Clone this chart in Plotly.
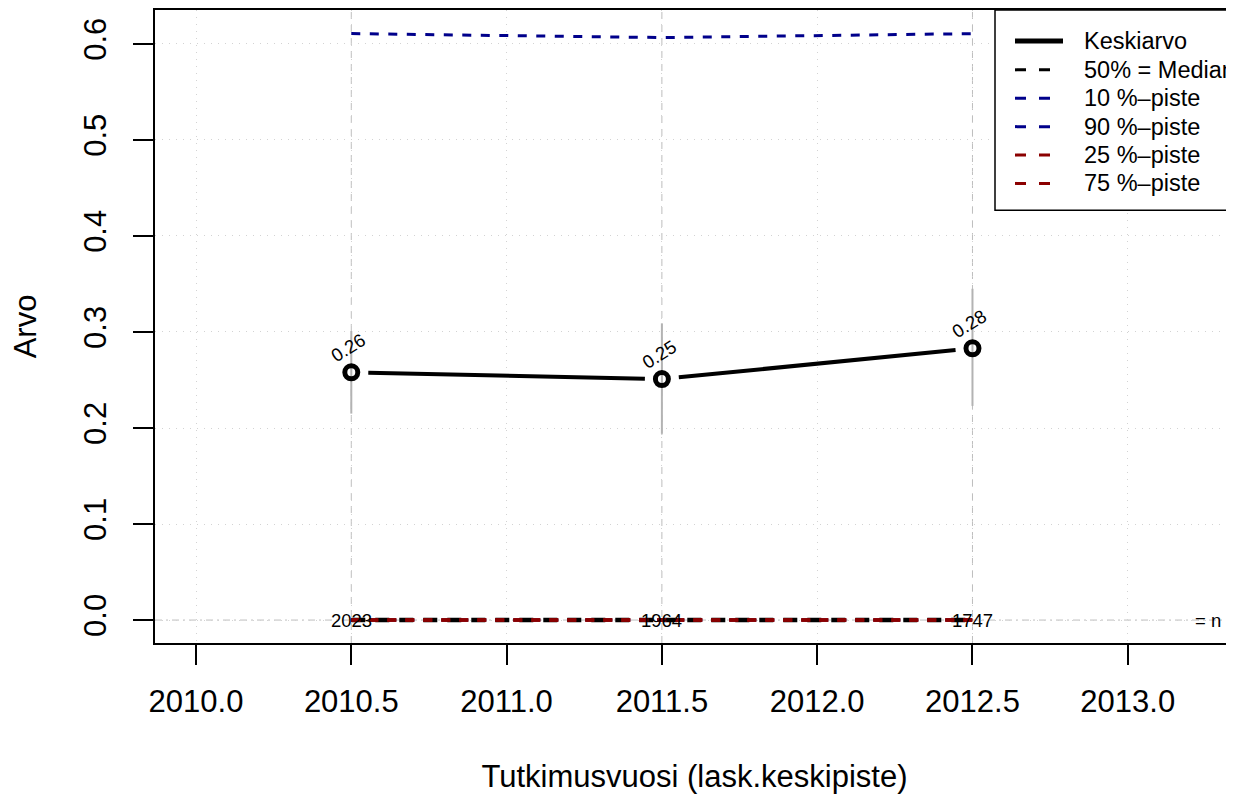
import plotly.graph_objects as go

# ---------------- data ----------------
years = [2010.5, 2011.5, 2012.5]
mean_vals = [0.258, 0.251, 0.283]
mean_labels = ["0.26", "0.25", "0.28"]
err_low = [0.215, 0.194, 0.223]
err_high = [0.301, 0.309, 0.345]
p10 = [0.0, 0.0, 0.0]
p25 = [0.0, 0.0, 0.0]
p50 = [0.0, 0.0, 0.0]
p75 = [0.0, 0.0, 0.0]
p90 = [0.6107, 0.6066, 0.6107]
n_vals = ["2023", "1964", "1747"]
x_ticks = [2010.0, 2010.5, 2011.0, 2011.5, 2012.0, 2012.5, 2013.0]
y_ticks = [0.0, 0.1, 0.2, 0.3, 0.4, 0.5, 0.6]
legend_labels = ["Keskiarvo", "50% = Median", "10 %\u2013piste", "90 %\u2013piste",
                 "25 %\u2013piste", "75 %\u2013piste"]

# ---------------- layout geometry ----------------
OFF = 8                      # page body margin
FW, FH = 1234 - OFF, 797 - OFF
L, T = 155 - OFF, 8 - OFF    # plot area left / top in figure pixels
W, H = FW - L, (643 - OFF) - T
XR = [2009.868, 2013.342]
YR = [-0.0239, 0.6353]
FONT = "Liberation Sans, Arial, Helvetica, sans-serif"

BLACK = "#000000"
NAVY = "#00008B"
DRED = "#8B0000"
GRID = "#D3D3D3"
GRAY = "#BEBEBE"


def to_px(x, y):
    return (L + (x - XR[0]) / (XR[1] - XR[0]) * W,
            T + H - (y - YR[0]) / (YR[1] - YR[0]) * H)


def to_data(px, py):
    return (XR[0] + (px - L) / W * (XR[1] - XR[0]),
            YR[0] + (T + H - py) / H * (YR[1] - YR[0]))


def pxx(p):  # page pixel -> paper x
    return (p - OFF - L) / W


def pyy(p):  # page pixel -> paper y
    return (T + H - (p - OFF)) / H


fig = go.Figure()

# percentile lines
fig.add_trace(go.Scatter(x=years, y=p10, mode="lines", showlegend=False,
                         line=dict(color=NAVY, width=3, dash="9px,9px")))
fig.add_trace(go.Scatter(x=years, y=p90, mode="lines", showlegend=False,
                         line=dict(color=NAVY, width=3, dash="9px,9.5px")))
fig.add_trace(go.Scatter(x=years, y=p50, mode="lines", showlegend=False,
                         line=dict(color=BLACK, width=4.5, dash="14px,10px")))
fig.add_trace(go.Scatter(x=years, y=p25, mode="lines", showlegend=False,
                         line=dict(color=DRED, width=3.5, dash="9px,9px")))
fig.add_trace(go.Scatter(x=years, y=p75, mode="lines", showlegend=False,
                         line=dict(color=DRED, width=3.5, dash="9px,9px")))

# error bars (vertical gray)
for x, lo, hi in zip(years, err_low, err_high):
    fig.add_trace(go.Scatter(x=[x, x], y=[lo, hi], mode="lines", showlegend=False,
                             line=dict(color="#B3B3B3", width=2)))

# mean line with gaps around points (R type="b")
GAP = 17
for i in range(len(years) - 1):
    x0, y0 = to_px(years[i], mean_vals[i])
    x1, y1 = to_px(years[i + 1], mean_vals[i + 1])
    d = ((x1 - x0) ** 2 + (y1 - y0) ** 2) ** 0.5
    ux, uy = (x1 - x0) / d, (y1 - y0) / d
    a = to_data(x0 + ux * GAP, y0 + uy * GAP)
    b = to_data(x1 - ux * GAP, y1 - uy * GAP)
    fig.add_trace(go.Scatter(x=[a[0], b[0]], y=[a[1], b[1]], mode="lines",
                             showlegend=False, line=dict(color=BLACK, width=4)))

fig.add_trace(go.Scatter(x=years, y=mean_vals, mode="markers", showlegend=False,
                         marker=dict(symbol="circle-open", size=13, color=BLACK,
                                     line=dict(width=5, color=BLACK))))

# reference lines
for x in years:
    fig.add_shape(type="line", xref="x", yref="paper", x0=x, x1=x, y0=0, y1=1,
                  line=dict(color=GRAY, width=1, dash="7px,6px"), layer="below")
fig.add_shape(type="line", xref="paper", yref="y", x0=0, x1=1, y0=0, y1=0,
              line=dict(color=GRAY, width=1, dash="7px,4px,2px,4px"), layer="below")

SMALL = 18.5
annotations = []
# mean labels
for x, y, t in zip(years, mean_vals, mean_labels):
    annotations.append(dict(x=x, y=y, text=t, showarrow=False, xshift=-3, yshift=25,
                            textangle=-32, font=dict(size=SMALL, color=BLACK, family=FONT)))
# n labels
for x, t in zip(years, n_vals):
    annotations.append(dict(x=x, y=0, text=t, showarrow=False,
                            font=dict(size=SMALL, color=BLACK, family=FONT)))
annotations.append(dict(x=2013.258, y=0, text="= n", showarrow=False,
                        font=dict(size=SMALL, color=BLACK, family=FONT)))

# manual legend (R style)
fig.add_shape(type="rect", xref="paper", yref="paper", x0=pxx(995), x1=pxx(1320),
              y0=pyy(209), y1=pyy(8), fillcolor="white",
              line=dict(color=BLACK, width=1.5), layer="above")
leg_styles = [(BLACK, 5, "solid"), (BLACK, 3, "11px,13px"), (NAVY, 3, "11px,13px"),
              (NAVY, 3, "11px,13px"), (DRED, 3, "11px,13px"), (DRED, 3, "11px,13px")]
row_y = [39, 68, 96.5, 125, 153.5, 182]
for (col, wd, ds), ry, lab in zip(leg_styles, row_y, legend_labels):
    fig.add_shape(type="line", xref="paper", yref="paper", x0=pxx(1015), x1=pxx(1063),
                  y0=pyy(ry), y1=pyy(ry), line=dict(color=col, width=wd, dash=ds),
                  layer="above")
    annotations.append(dict(xref="paper", yref="paper", x=pxx(1082), y=pyy(ry),
                            xanchor="left", yanchor="middle", text=lab, showarrow=False,
                            font=dict(size=23.5, color=BLACK, family=FONT)))

AX = 31
fig.update_layout(
    width=FW, height=FH,
    margin=dict(l=L, r=0, t=T, b=FH - (T + H), pad=0),
    plot_bgcolor="white", paper_bgcolor="white",
    font=dict(family=FONT, size=AX, color=BLACK),
    showlegend=False,
    annotations=annotations,
    xaxis=dict(range=XR, tickmode="array", tickvals=x_ticks,
               ticktext=[f"{v:.1f}" for v in x_ticks],
               ticks="outside", ticklen=20, tickwidth=1.5, tickcolor=BLACK,
               ticklabelstandoff=10, tickfont=dict(size=AX, family=FONT),
               showline=True, linecolor=BLACK, linewidth=1.5, mirror=True,
               showgrid=True, gridcolor=GRID, gridwidth=1, griddash="1px,6px",
               zeroline=False,
               title=dict(text="Tutkimusvuosi (lask.keskipiste)", standoff=47,
                          font=dict(size=AX, family=FONT))),
    yaxis=dict(range=YR, tickmode="array", tickvals=y_ticks,
               ticktext=[f"{v:.1f}" for v in y_ticks], tickangle=-90,
               ticks="outside", ticklen=20, tickwidth=1.5, tickcolor=BLACK,
               ticklabelstandoff=15, tickfont=dict(size=AX, family=FONT),
               showline=True, linecolor=BLACK, linewidth=1.5, mirror=False,
               showgrid=True, gridcolor=GRID, gridwidth=1, griddash="1px,6px",
               zeroline=False,
               title=dict(text="Arvo", standoff=46, font=dict(size=AX, family=FONT))),
)

fig.write_html("out.html")
